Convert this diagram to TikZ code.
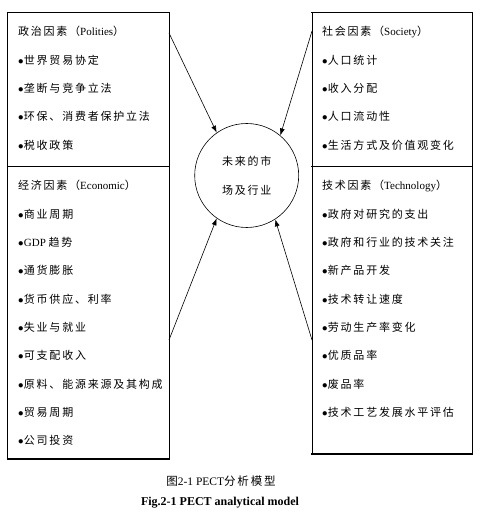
\documentclass[tikz,border=0pt]{standalone}
\usepackage{fontspec}
\setmainfont{Liberation Serif}
\newfontfamily\cjk[LetterSpace=16]{Noto Sans CJK SC}
\newcommand{\zh}[1]{{\cjk #1}}
\newcommand{\dotmark}{$\bullet$\kern0.3pt}
\usetikzlibrary{arrows.meta,positioning}

\begin{document}
\begin{tikzpicture}[x=1pt,y=1pt,>={Latex[length=7pt,width=5pt]},node distance=28.3pt,
    item/.style={anchor=west,inner sep=0pt,text height=8pt,text depth=2pt,font=\fontsize{11}{12}\selectfont},
    nxt/.style={below=of #1.west,anchor=west},
    box/.style={draw,line width=0.7pt},
    rule/.style={line width=1.6pt},
    arr/.style={->,line width=0.6pt}]
  \useasboundingbox (0,0) rectangle (482,517);
  % factor boxes
  \draw[box] (7.5,504.5) rectangle (169,58);
  \draw[box] (312,504.5) rectangle (472.5,63);
  \draw[rule] (6.7,504.5) -- (169.8,504.5);
  \draw[rule] (6.7,350.5) -- (169.8,350.5);
  \draw[rule] (6.7,58) -- (169.8,58);
  \draw[rule] (311.2,504.5) -- (473.3,504.5);
  \draw[rule] (311.2,350.5) -- (473.3,350.5);
  \draw[rule] (311.2,63) -- (473.3,63);

  % politics
  \node[item] (pol0) at (18,484) {\zh{政治因素（}Polities\zh{）}};
  \node[item,nxt=pol0] (pol1) {\dotmark\zh{世界贸易协定}};
  \node[item,nxt=pol1] (pol2) {\dotmark\zh{垄断与竞争立法}};
  \node[item,nxt=pol2] (pol3) {\dotmark\zh{环保、消费者保护立法}};
  \node[item,nxt=pol3] (pol4) {\dotmark\zh{税收政策}};
  % economy
  \node[item] (eco0) at (18,330) {\zh{经济因素（}Economic\zh{）}};
  \node[item,nxt=eco0] (eco1) {\dotmark\zh{商业周期}};
  \node[item,nxt=eco1] (eco2) {\dotmark GDP \zh{趋势}};
  \node[item,nxt=eco2] (eco3) {\dotmark\zh{通货膨胀}};
  \node[item,nxt=eco3] (eco4) {\dotmark\zh{货币供应、利率}};
  \node[item,nxt=eco4] (eco5) {\dotmark\zh{失业与就业}};
  \node[item,nxt=eco5] (eco6) {\dotmark\zh{可支配收入}};
  \node[item,nxt=eco6] (eco7) {\dotmark\zh{原料、能源来源及其构成}};
  \node[item,nxt=eco7] (eco8) {\dotmark\zh{贸易周期}};
  \node[item,nxt=eco8] (eco9) {\dotmark\zh{公司投资}};
  % society
  \node[item] (soc0) at (322,484) {\zh{社会因素（}Society\zh{）}};
  \node[item,nxt=soc0] (soc1) {\dotmark\zh{人口统计}};
  \node[item,nxt=soc1] (soc2) {\dotmark\zh{收入分配}};
  \node[item,nxt=soc2] (soc3) {\dotmark\zh{人口流动性}};
  \node[item,nxt=soc3] (soc4) {\dotmark\zh{生活方式及价值观变化}};
  % technology
  \node[item] (tec0) at (322,330) {\zh{技术因素（}Technology\zh{）}};
  \node[item,nxt=tec0] (tec1) {\dotmark\zh{政府对研究的支出}};
  \node[item,nxt=tec1] (tec2) {\dotmark\zh{政府和行业的技术关注}};
  \node[item,nxt=tec2] (tec3) {\dotmark\zh{新产品开发}};
  \node[item,nxt=tec3] (tec4) {\dotmark\zh{技术转让速度}};
  \node[item,nxt=tec4] (tec5) {\dotmark\zh{劳动生产率变化}};
  \node[item,nxt=tec5] (tec6) {\dotmark\zh{优质品率}};
  \node[item,nxt=tec6] (tec7) {\dotmark\zh{废品率}};
  \node[item,nxt=tec7] (tec8) {\dotmark\zh{技术工艺发展水平评估}};

  % market in the middle
  \node[draw,circle,minimum size=104pt,inner sep=0pt,line width=0.6pt,align=center,
    font=\fontsize{11}{29}\selectfont] (fut) at (246.7,341.5) {\zh{未来的市}\\\zh{场及行业}};
  \coordinate (pol-out) at (169,484);
  \coordinate (soc-out) at (312,486);
  \coordinate (eco-out) at (169,177);
  \coordinate (tec-out) at (312,177);
  \draw[arr] (pol-out) -- (fut.125);
  \draw[arr] (soc-out) -- (fut.50);
  \draw[arr] (eco-out) -- (fut.235);
  \draw[arr] (tec-out) -- (fut.303);

  % caption
  \node[font=\fontsize{11.5}{12}\selectfont] (cap) at (221,36) {\zh{图}2-1 PECT\zh{分析模型}};
  \node[font=\bfseries\fontsize{12}{14}\selectfont] (cap-en) at (220,14) {Fig.2-1 PECT analytical model};
\end{tikzpicture}
\end{document}
